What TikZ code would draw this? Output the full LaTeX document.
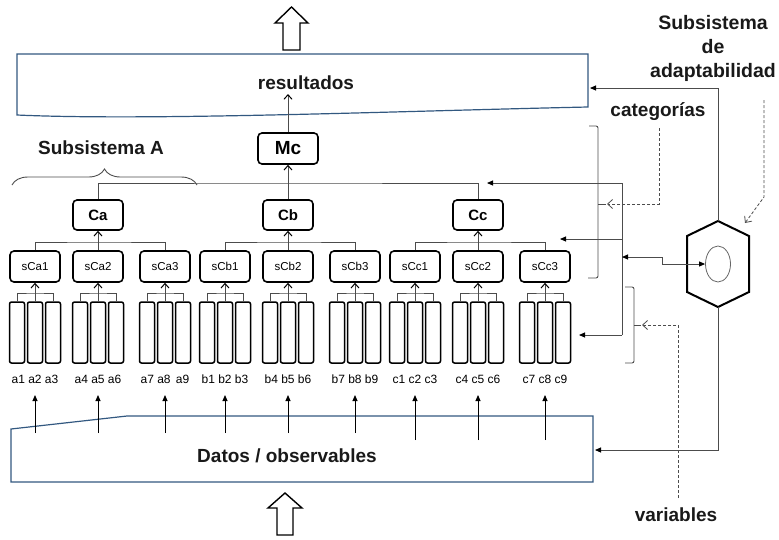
\documentclass[tikz,border=0pt]{standalone}
\usepackage{fontspec}
\setmainfont{Liberation Sans}
\usetikzlibrary{arrows.meta,shapes.geometric,decorations.pathreplacing,calc}
\definecolor{boxblue}{RGB}{50,88,128}
\definecolor{txt}{RGB}{25,25,25}
\tikzset{
  bigtxt/.style={font=\fontsize{19}{23}\selectfont\bfseries, text=txt, inner sep=0pt},
  cbox/.style={draw, line width=1.6pt, rounded corners=4pt, minimum width=50pt, minimum height=30pt, inner sep=0pt, font=\fontsize{15}{18}\selectfont\bfseries},
  sbox/.style={draw, line width=1.6pt, rounded corners=4pt, minimum width=50pt, minimum height=31pt, inner sep=0pt, font=\fontsize{11.5}{14}\selectfont},
  colbox/.style={draw, line width=1.5pt, rounded corners=2pt, minimum width=15pt, minimum height=61pt, inner sep=0pt},
  lbl/.style={font=\fontsize{12}{14}\selectfont, inner sep=0pt},
  conn/.style={draw=black!70, line width=0.9pt},
  tarr/.style={-{Straight Barb[length=4.5pt,width=8pt,line width=1pt,color=black]}},
  farr/.style={-{Triangle[length=6pt,width=5pt,color=black]}},
  dsh/.style={draw=black!70, line width=0.8pt, dash pattern=on 3pt off 2pt, -{Straight Barb[length=5pt,width=9pt,line width=0.8pt]}},
  brk/.style={draw=black!70, line width=0.9pt},
  hollow/.style={draw, line width=1.4pt, fill=white, line join=miter}
}
\begin{document}
\begin{tikzpicture}[x=1pt,y=-1pt]
\useasboundingbox (0,0) rectangle (779,539);

% hollow arrows
\draw[hollow] (291.5,7) -- (308,23) -- (300,23) -- (300,50) -- (283,50) -- (283,23) -- (275,23) -- cycle;
\draw[hollow] (285,493) -- (302,508) -- (293,508) -- (293,535) -- (277,535) -- (277,508) -- (268,508) -- cycle;

% resultados box
\draw[boxblue, line width=1.2pt] (17,54) -- (588,54) -- (588,107) .. controls (400,111) and (150,121) .. (17,115) -- cycle;
\node[bigtxt] (restxt) at (306,83) {resultados};
\coordinate (resR) at (590,88);
\coordinate (resin) at (288,94);

% datos box
\draw[boxblue, line width=1.2pt] (11,429) -- (127,416) -- (593,416) -- (593,482) -- (11,482) -- cycle;
\node[bigtxt] (dattxt) at (287,456) {Datos / observables};
\coordinate (datR) at (595,450);

% Mc and C nodes
\node[cbox, minimum width=60pt, minimum height=31pt, font=\fontsize{19}{22}\selectfont\bfseries] (Mc) at (288,148.5) {Mc};
\node[cbox] (Ca) at (98,215) {Ca};
\node[cbox] (Cb) at (288,215) {Cb};
\node[cbox] (Cc) at (478,215) {Cc};

% groups
\foreach \i/\x/\n/\lab/\yb in {1/35/sCa1/{a1 a2 a3}/433, 2/98/sCa2/{a4 a5 a6}/433, 3/165/sCa3/{a7 a8 \,a9}/433,
  4/225/sCb1/{b1 b2 b3}/433, 5/288/sCb2/{b4 b5 b6}/433, 6/355/sCb3/{b7 b8 b9}/433,
  7/415/sCc1/{c1 c2 c3}/440, 8/478/sCc2/{c4 c5 c6}/440, 9/545/sCc3/{c7 c8 c9}/440}{
  \node[sbox] (s\i) at (\x,266.5) {\n};
  \node[colbox] (r\i-a) at ({\x-18},332.5) {};
  \node[colbox] (r\i-b) at (\x,332.5) {};
  \node[colbox] (r\i-c) at ({\x+18},332.5) {};
  \coordinate (j\i) at (\x,293);
  \draw[conn] (r\i-a.north) |- (j\i) -| (r\i-c.north);
  \draw[conn,tarr] (r\i-b.north) -- (s\i.south);
  \node[lbl] (l\i) at (\x,379) {\lab};
  \coordinate (u\i) at (\x,\yb);
  \coordinate (v\i) at (\x,395);
  \draw[line width=0.9pt, farr] (u\i) -- (v\i);
}

% sC -> C trees
\coordinate (ka) at (98,242);
\coordinate (kb) at (288,242);
\coordinate (kc) at (478,242);
\draw[conn] (s1.north) |- (ka) -| (s3.north);
\draw[conn] (s4.north) |- (kb) -| (s6.north);
\draw[conn] (s7.north) |- (kc) -| (s9.north);
\draw[conn,tarr] (s2.north) -- (Ca.south);
\draw[conn,tarr] (s5.north) -- (Cb.south);
\draw[conn,tarr] (s8.north) -- (Cc.south);

\coordinate (kt) at (288,183);
\draw[conn] (Ca.north) |- (kt) -| (Cc.north);
\draw[conn,tarr] (Cb.north) -- (Mc.south);
\draw[conn,tarr] (Mc.north) -- (resin);

% Subsistema A
\draw[brk, decorate, decoration={brace, amplitude=16pt}] (12,185) -- (197,185);
\node[bigtxt] (subA) at (101,148) {Subsistema A};

% bus
\coordinate (busT) at (622,183);
\coordinate (busS) at (622,239);
\coordinate (busE) at (622,257);
\coordinate (busB) at (622,335);
\coordinate (tipC) at (487,183);
\coordinate (tipS) at (560,239);
\coordinate (tipR) at (579,335);
\draw[conn] (busT) -- (busB);
\draw[conn,farr] (busT) -- (tipC);
\draw[conn,farr] (busS) -- (tipS);
\draw[conn,farr] (busB) -- (tipR);

% hexagon
\coordinate (hexT) at (718,221);
\coordinate (hexB) at (718,307);
\draw[line width=2pt, line join=miter] (hexT) -- (749,236) -- (749,292) -- (hexB) -- (687,292) -- (687,236) -- cycle;
\node[draw=black!60, ellipse, minimum width=25pt, minimum height=36pt, inner sep=0pt, line width=0.8pt] (eye) at (718,264) {};
\coordinate (st1) at (662,257);
\coordinate (st2) at (662,264);
\draw[conn, {Triangle[length=6pt,width=5pt,color=black]}-{Triangle[length=6pt,width=5pt,color=black]}] (busE) -- (st1) -- (st2) -- (eye.west);
\draw[conn,farr] (hexT) |- (resR);
\draw[conn,farr] (hexB) |- (datR);

% categorias bracket
\draw[brk, rounded corners=2pt] (589,126) -- (598,126) -- (598,278) -- (588,278);
\draw[brk] (598,204) -- (606,204);
\coordinate (catA) at (659,128);
\coordinate (catB) at (659,204);
\coordinate (catC) at (607,204);
\draw[dsh] (catA) -- (catB) -- (catC);
\node[bigtxt] (cattxt) at (658,112) {categorías};

% variables bracket
\draw[brk, rounded corners=2pt] (625,287) -- (634,287) -- (634,363) -- (625,363);
\draw[brk] (634,325) -- (641,325);
\coordinate (varA) at (678,498);
\coordinate (varB) at (678,325);
\coordinate (varC) at (642,325);
\draw[dsh] (varA) -- (varB) -- (varC);
\node[bigtxt] (vartxt) at (676,515) {variables};

% adaptabilidad
\node[bigtxt, align=center, font=\fontsize{19.5}{24}\selectfont\bfseries] (adtxt) at (713,48) {Subsistema\\de\\adaptabilidad};
\coordinate (adA) at (764,100);
\coordinate (adB) at (764,197);
\coordinate (adC) at (745,223);
\draw[dsh] (adA) -- (adB) -- (adC);
\end{tikzpicture}
\end{document}
